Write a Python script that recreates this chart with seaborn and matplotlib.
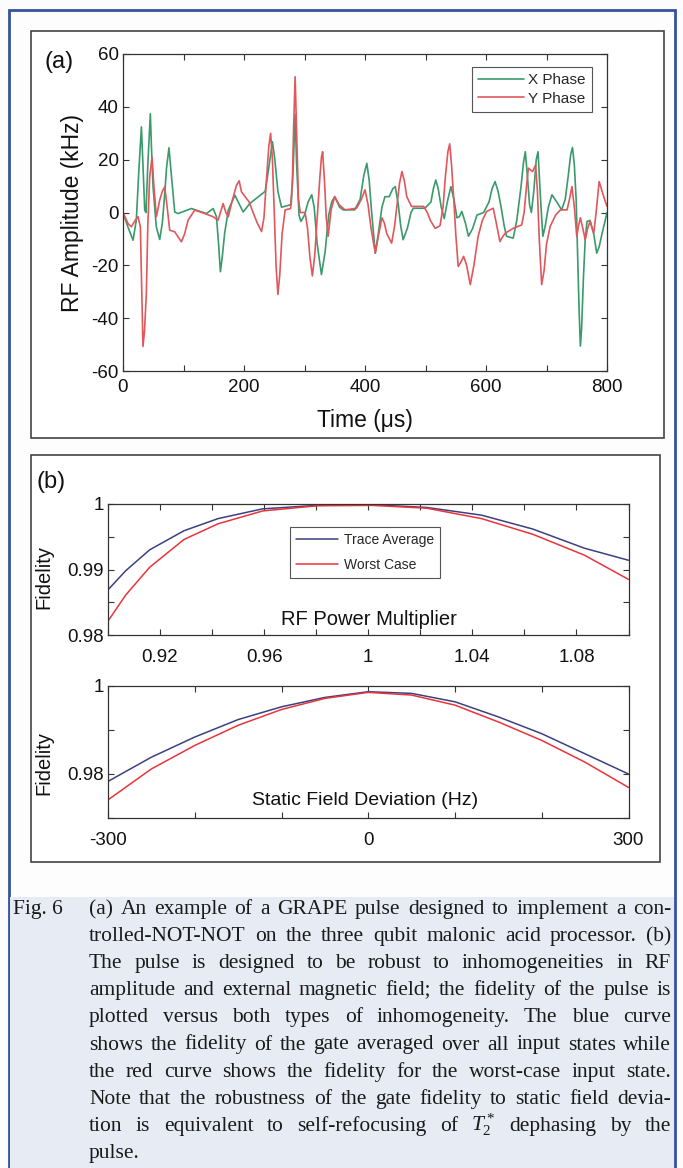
import matplotlib
matplotlib.use("Agg")
import numpy as np
import pandas as pd
import seaborn as sns
import matplotlib.pyplot as plt
from matplotlib.patches import Rectangle
from matplotlib.ticker import MultipleLocator, FuncFormatter, FixedLocator, FixedFormatter

# ---- panel (a): GRAPE pulse ----
x_time = [0, 8, 16.6, 22, 26, 30.4, 33, 35.9, 38, 41, 45.2, 47, 49.7, 55, 60.7, 65, 69, 72, 76,
          80, 85.5, 91, 113, 138, 149, 154.5, 158, 161, 164, 168, 174, 185, 198.6, 209.6, 235,
          241, 247, 251, 256, 262, 278, 281, 284.5, 287, 291, 294, 300, 306, 312, 316, 321,
          328, 334, 340, 345, 350, 358, 364, 383, 392, 398, 403, 407, 411, 417, 422, 428, 433,
          440, 446, 450, 455, 459, 463, 470, 476, 480, 499, 509, 513, 517, 521, 526, 531, 536,
          542, 547, 552, 556, 560, 566, 571, 578, 585, 596, 605, 610, 615, 620, 625, 630, 634,
          645, 651, 658, 662, 665, 668, 672, 675, 679, 683, 686, 689, 692, 694, 698, 703, 709,
          717, 725, 731, 736, 740, 743, 746, 749, 752, 754, 756, 758, 761, 764, 767, 772, 778,
          783, 787, 792, 796, 800]
x_amp = [0, -5.4, -10.5, -2.9, 15, 32.4, 18, 0.9, 0, 18, 37.4, 25, 9.7, -5.4, -10.2, -4, 7.2, 17,
         24.5, 14, 0.2, -0.4, 1.5, -0.4, 1.5, -1.6, -12, -22.4, -17, -7.9, 0.9, 6.5, 0.2, 3.4, 8,
         17, 26.8, 20, 8, 2, 3, 15, 37, 18, -1, -3.4, -1, 4, 6.7, 2, -12,
         -23.5, -15, -1, 4, 6, 2, 1, 1, 5, 14, 18.6, 12, 0, -15.4, -8, 2, 6,
         6, 9, 9.8, 3, -5, -10.3, -6, 0, 1.6, 1.6, 4, 9, 12.3, 9, 2, -2.3, 4,
         9.8, 5, -2, -1.6, 0.4, -4, -9, -6, -1, 0, 4, 9, 11.7, 8, 2, -5, -9,
         -9.7, -2.8, 10, 19, 23, 15, 3, 0, 8, 20, 23, 10, -2, -9, -5, 2, 6.7,
         4, 1, 5, 14, 22, 24.6, 18, 5, -20, -38, -50.6, -44, -25, -10, -3.4, -3, -8,
         -15.4, -13, -7.8, -4, 0]

y_time = [0, 8.3, 13.8, 20, 24.8, 28.7, 31, 33, 35.5, 38.6, 41, 44.1, 48, 51, 55.2, 60.7, 65, 69,
          73, 77.2, 85.5, 96.5, 102, 107.6, 118.6, 135.2, 149, 157.2, 161, 165.5, 170, 174, 180,
          187.6, 192, 195.8, 208.5, 215, 222, 229, 233, 237, 241, 244, 247, 250, 253, 256, 259,
          263, 268, 277, 280, 282, 284.5, 287, 290, 293, 301, 305, 309, 313, 317, 321, 325, 328,
          330, 333, 336, 339, 344, 350, 357, 367, 386, 394, 400, 405, 410, 417, 422, 428, 432,
          436, 444, 449, 453, 457, 461, 465, 469, 477, 497, 503, 508, 516, 524, 529, 533, 537,
          540, 543, 547, 550, 554, 558, 563, 568, 574, 580, 587, 594, 601, 612, 617, 623, 628,
          632, 645, 659, 663, 667, 670, 677, 682, 685, 688, 692, 696, 700, 706, 715, 723, 734,
          738, 742, 746, 750, 753, 756, 760, 764, 768, 772, 778, 782, 787, 792, 796, 800]
y_amp = [0, -4.2, -5.4, -3, -1.6, -5.4, -30, -50.7, -45, -30.6, -5, 13.5, 21, 10, -1.6, 4.7, 8, 9.7,
         2, -6.7, -7.3, -11.1, -8, -2.9, 0.9, -0.4, -1.6, -2.9, 0, 3.4, 0, -1.6, 4,
         10.3, 12, 7.8, 4, 0, -4, -7.2, -2, 12, 25, 30, 20, 0, -20, -31, -24,
         -8, 1, 1.5, 12, 32, 51.4, 30, 5, 0, 0, -6, -17, -24, -16, -2, 12, 21,
         23, 12, -2, -9, 1, 6, 3, 1, 1.6, 5, 8.6, 3, -6, -15.4, -9, -2, -4,
         -8, -11.6, -5, 3, 11, 15.5, 12, 6, 2.3, 2.3, 0, -3, -6, -5, 2, 14, 23,
         26, 18, 4, -8, -20.4, -19, -16.6, -20, -27.3, -20, -9, -3, 0.4, 1.6, -4, -11, -9,
         -7.8, -6, -4.7, 0, 10, 16.8, 15.5, 18, 8, -10, -27.3, -22, -12, -5.3, -1, 1, 1,
         5, 9.8, 2, -9, -5, -2, -6, -10.3, -6, -3.4, -7.8, 0, 11.7, 8, 5, 2.3]

# ---- panel (b): fidelity curves ----
rf_mult = [0.900, 0.9068, 0.916, 0.9292, 0.9423, 0.9594, 0.9804, 1.0014, 1.0225, 1.0435,
           1.0632, 1.083, 1.100]
rf_trace = [0.98690, 0.98981, 0.99300, 0.99592, 0.99777, 0.99926, 0.99979, 0.99989, 0.99947,
            0.99830, 0.99618, 0.99326, 0.99141]
rf_worst = [0.98212, 0.98610, 0.99034, 0.99459, 0.99698, 0.99894, 0.99973, 0.99979, 0.99936,
            0.99777, 0.99538, 0.99220, 0.98849]

field_hz = [-300, -250, -200, -150, -100, -50, 0, 50, 100, 150, 200, 250, 300]
field_trace = [0.97832, 0.98382, 0.98840, 0.99237, 0.99527, 0.99740, 0.99870, 0.99832,
               0.99641, 0.99298, 0.98916, 0.98458, 0.98000]
field_worst = [0.97412, 0.98115, 0.98649, 0.99107, 0.99466, 0.99718, 0.99855, 0.99794,
               0.99565, 0.99183, 0.98763, 0.98267, 0.97695]

caption_lines = [
    "(a) An example of a GRAPE pulse designed to implement a con-",
    "trolled-NOT-NOT on the three qubit malonic acid processor. (b)",
    "The pulse is designed to be robust to inhomogeneities in RF",
    "amplitude and external magnetic field; the fidelity of the pulse is",
    "plotted versus both types of inhomogeneity. The blue curve",
    "shows the fidelity of the gate averaged over all input states while",
    "the red curve shows the fidelity for the worst-case input state.",
    "Note that the robustness of the gate fidelity to static field devia-",
    "tion is equivalent to self-refocusing of $T_2^*$ dephasing by the",
    "pulse.",
]

W, H = 683, 1168
GREEN = "#3a9a6c"
PINK = "#e0575c"
NAVY = "#3b4080"
RED = "#e8343a"

sns.set_theme(style="ticks")
plt.rcParams['font.family'] = ['Liberation Sans', 'DejaVu Sans']
plt.rcParams['axes.unicode_minus'] = False
plt.rcParams['mathtext.fontset'] = 'custom'
plt.rcParams['mathtext.rm'] = 'Liberation Serif'
plt.rcParams['mathtext.it'] = 'Liberation Serif:italic'

fig = plt.figure(figsize=(W / 100, H / 100), dpi=100)
fig.patch.set_facecolor("#fcfcfd")


def px_axes(l, t, r, b):
    return fig.add_axes([l / W, 1 - b / H, (r - l) / W, (b - t) / H])


# background layer in pixel coordinates
bg = fig.add_axes([0, 0, 1, 1])
bg.set_xlim(0, W)
bg.set_ylim(H, 0)
bg.axis("off")
bg.add_patch(Rectangle((9, 10), 666, 1200, facecolor="#fdfdfe", edgecolor="#35539c", lw=2))
bg.add_patch(Rectangle((10, 897), 664, 300, facecolor="#e7ebf4", edgecolor="none"))
bg.add_patch(Rectangle((31, 31), 633, 407, facecolor="white", edgecolor="#444444", lw=1.2))
bg.add_patch(Rectangle((31, 455), 629, 407, facecolor="white", edgecolor="#444444", lw=1.2))
bg.text(59, 62, "(a)", fontsize=17, ha="center", va="center", color="#111111")
bg.text(51, 482, "(b)", fontsize=17, ha="center", va="center", color="#111111")


def style_axes(ax):
    ax.set_facecolor("white")
    for s in ax.spines.values():
        s.set_color("#333333")
        s.set_linewidth(0.9)
    ax.tick_params(direction="in", top=True, right=True, length=4, width=0.8,
                   color="#333333", labelsize=13.5, labelcolor="#111111")


# ---- (a) ----
ax_a = px_axes(123, 54, 607, 371)
pulse = pd.concat([
    pd.DataFrame({"time": x_time, "amp": x_amp, "phase": "X Phase"}),
    pd.DataFrame({"time": y_time, "amp": y_amp, "phase": "Y Phase"}),
])
sns.lineplot(data=pulse, x="time", y="amp", hue="phase", palette=[GREEN, PINK],
             estimator=None, sort=False, linewidth=1.2, solid_joinstyle="round", ax=ax_a)
ax_a.set_xlim(0, 800)
ax_a.set_ylim(-60, 60)
style_axes(ax_a)
ax_a.tick_params(axis="x", pad=6)
ax_a.tick_params(axis="y", pad=3)
ax_a.xaxis.set_major_locator(MultipleLocator(100))
ax_a.xaxis.set_major_formatter(FuncFormatter(lambda v, p: f"{v:.0f}" if round(v) % 200 == 0 else ""))
ax_a.yaxis.set_major_locator(MultipleLocator(20))
ax_a.yaxis.set_major_formatter(FuncFormatter(lambda v, p: f"{v:.0f}"))
ax_a.set_xlabel("Time (\u03bcs)", fontsize=16.5, color="#111111")
ax_a.xaxis.label.set_va("center")
ax_a.xaxis.set_label_coords(0.5, (371 - 420) / 317)
ax_a.set_ylabel("RF Amplitude (kHz)", fontsize=16.5, color="#111111")
ax_a.yaxis.label.set_va("center")
ax_a.yaxis.set_label_coords((72 - 123) / 484, 0.5)
h, l = ax_a.get_legend_handles_labels()
leg = ax_a.legend(h, l, loc="upper right", bbox_to_anchor=(0.969, 0.959), borderaxespad=0,
                  fontsize=11, handlelength=3.0, handletextpad=0.3, labelspacing=0.3,
                  borderpad=0.4, fancybox=False, framealpha=1)
leg.get_frame().set_edgecolor("#555555")
leg.get_frame().set_linewidth(0.8)

# ---- (b) top ----
ax_b1 = px_axes(108, 504, 628.5, 635)
rf = pd.concat([
    pd.DataFrame({"mult": rf_mult, "fid": rf_trace, "curve": "Trace Average"}),
    pd.DataFrame({"mult": rf_mult, "fid": rf_worst, "curve": "Worst Case"}),
])
sns.lineplot(data=rf, x="mult", y="fid", hue="curve", palette=[NAVY, RED],
             estimator=None, linewidth=1.1, ax=ax_b1)
ax_b1.set_xlim(0.9, 1.1)
ax_b1.set_ylim(0.98, 1.0)
style_axes(ax_b1)
ax_b1.tick_params(axis="x", pad=10)
ax_b1.tick_params(axis="y", pad=3)
ax_b1.xaxis.set_major_locator(FixedLocator([0.90, 0.92, 0.94, 0.96, 0.98, 1.00, 1.02, 1.04, 1.06, 1.08, 1.10]))
ax_b1.xaxis.set_major_formatter(FixedFormatter(["", "0.92", "", "0.96", "", "1", "", "1.04", "", "1.08", ""]))
ax_b1.yaxis.set_major_locator(FixedLocator([0.98, 0.985, 0.99, 0.995, 1.0]))
ax_b1.yaxis.set_major_formatter(FixedFormatter(["0.98", "", "0.99", "", "1"]))
ax_b1.set_xlabel("RF Power Multiplier", fontsize=14.5, color="#111111")
ax_b1.xaxis.label.set_va("center")
ax_b1.xaxis.set_label_coords(0.501, 0.115)
ax_b1.set_ylabel("Fidelity", fontsize=14.5, color="#111111")
ax_b1.yaxis.label.set_va("center")
ax_b1.yaxis.set_label_coords((43.5 - 108) / 520.5, 0.443)
h, l = ax_b1.get_legend_handles_labels()
leg = ax_b1.legend(h, l, loc="upper left", bbox_to_anchor=(0.35, 0.824), borderaxespad=0,
                   fontsize=10, handlelength=3.0, handletextpad=0.4, labelspacing=0.75,
                   borderpad=0.45, fancybox=False, framealpha=1)
leg.get_frame().set_edgecolor("#555555")
leg.get_frame().set_linewidth(0.8)

# ---- (b) bottom ----
ax_b2 = px_axes(108, 686, 628.5, 818)
fld = pd.concat([
    pd.DataFrame({"hz": field_hz, "fid": field_trace, "curve": "Trace Average"}),
    pd.DataFrame({"hz": field_hz, "fid": field_worst, "curve": "Worst Case"}),
])
sns.lineplot(data=fld, x="hz", y="fid", hue="curve", palette=[NAVY, RED],
             estimator=None, linewidth=1.1, legend=False, ax=ax_b2)
ax_b2.set_xlim(-300, 300)
ax_b2.set_ylim(0.97, 1.0)
style_axes(ax_b2)
ax_b2.tick_params(axis="x", pad=10)
ax_b2.tick_params(axis="y", pad=3)
ax_b2.xaxis.set_major_locator(MultipleLocator(100))
ax_b2.xaxis.set_major_formatter(FuncFormatter(lambda v, p: f"{v:.0f}" if round(v) % 300 == 0 else ""))
ax_b2.yaxis.set_major_locator(FixedLocator([0.97, 0.98, 0.99, 1.0]))
ax_b2.yaxis.set_major_formatter(FixedFormatter(["", "0.98", "", "1"]))
ax_b2.set_xlabel("Static Field Deviation (Hz)", fontsize=14, color="#111111")
ax_b2.xaxis.label.set_va("center")
ax_b2.xaxis.set_label_coords(0.494, 0.136)
ax_b2.set_ylabel("Fidelity", fontsize=14.5, color="#111111")
ax_b2.yaxis.label.set_va("center")
ax_b2.yaxis.set_label_coords((43.5 - 108) / 520.5, 0.417)

# ---- caption, justified by hand ----
renderer = fig.canvas.get_renderer()
cap_font = dict(family=["Liberation Serif", "DejaVu Serif"], color="#1a1a1a")
left, right = 89, 671
base0, gap_y = 914, 27.1


def natural_width(line, fs):
    t = bg.text(0, 0, line, fontsize=fs, **cap_font)
    w = t.get_window_extent(renderer).width
    t.remove()
    return w


fs = 15.5
widest = max(natural_width(s, fs) for s in caption_lines[:-1])
if widest > right - left:
    fs = fs * (right - left) / widest * 0.995

bg.text(13, base0, "Fig. 6", fontsize=fs, va="baseline", ha="left", **cap_font)
for i, line in enumerate(caption_lines):
    y = base0 + i * gap_y
    words = line.split(" ")
    texts = [bg.text(0, y, w, fontsize=fs, va="baseline", ha="left", **cap_font) for w in words]
    widths = [t.get_window_extent(renderer).width for t in texts]
    if i == len(caption_lines) - 1 or len(words) == 1:
        gap = fs * 100 / 72 * 0.25
    else:
        gap = (right - left - sum(widths)) / (len(words) - 1)
    x = left
    for t, w in zip(texts, widths):
        t.set_x(x)
        x += w + gap

fig.savefig("out.png", dpi=100, facecolor=fig.get_facecolor())
